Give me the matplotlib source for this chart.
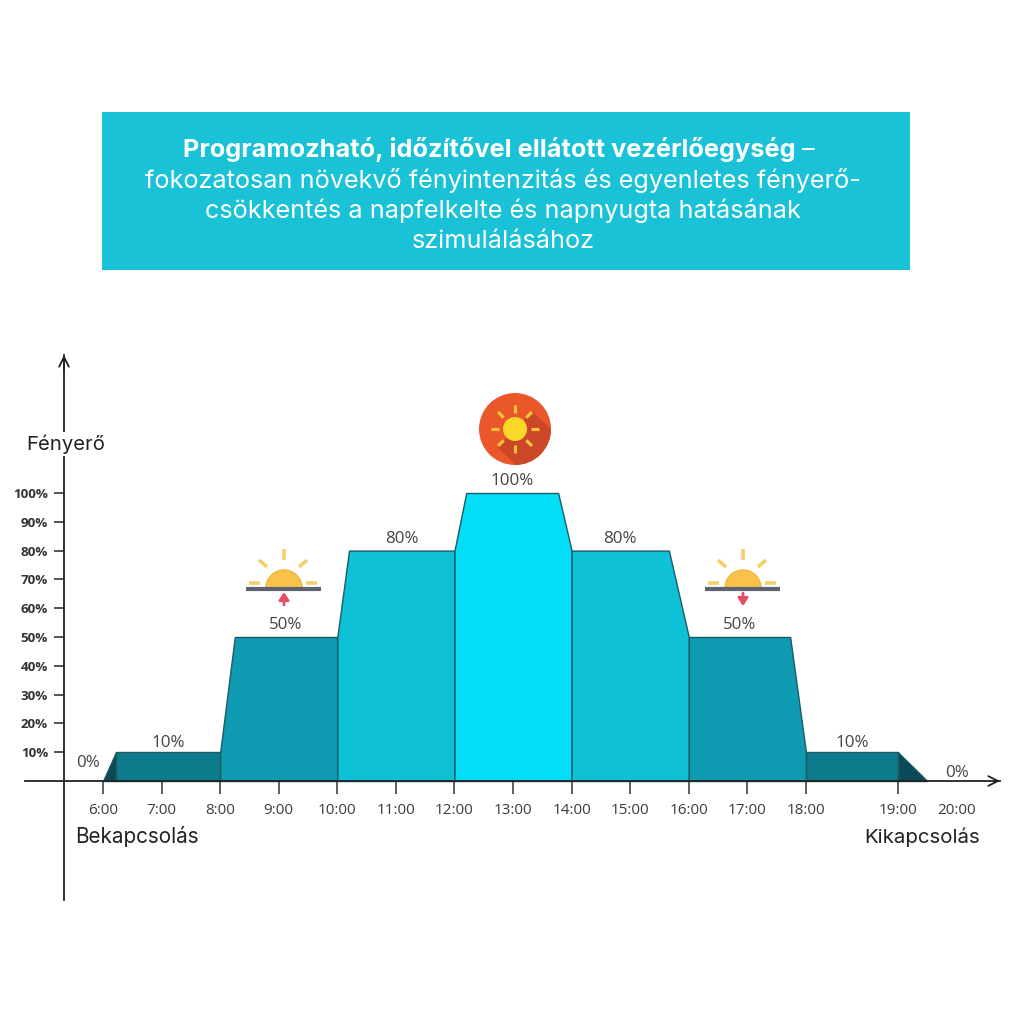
import numpy as np
import matplotlib
matplotlib.use('Agg')
import matplotlib.pyplot as plt
from matplotlib.patches import Rectangle, Circle, Wedge, Polygon
from matplotlib.scale import FuncScale

# ---------------- data ----------------
profile_time = [6.0, 6.22, 8.0, 8.25, 10.0, 10.2, 12.0, 12.2, 13.77, 14.0,
                15.66, 16.0, 17.73, 18.0, 19.0, 19.5]
profile_level = [0, 10, 10, 50, 50, 80, 80, 100, 100, 80, 80, 50, 50, 10, 10, 0]
block_edges = [6.0, 6.22, 8.0, 10.0, 12.0, 14.0, 16.0, 18.0, 19.0, 19.5]
block_levels = [0, 10, 50, 80, 100, 80, 50, 10, 0]
block_colors = ['#0a4a56', '#0d7b8b', '#0e9bb1', '#0fc1d6', '#03def6',
                '#0fc1d6', '#0e9bb1', '#0d7b8b', '#0a4a56']
hour_ticks = list(range(6, 20))
hour_labels = [f'{h}:00' for h in hour_ticks]
last_hour = [20]
last_label = ['20:00']
y_ticks = [10, 20, 30, 40, 50, 60, 70, 80, 90, 100]
y_labels = [f'{v}%' for v in y_ticks]

title_bold = 'Programozható, időzítővel ellátott vezérlőegység'
title_dash = ' –'
title_lines = ['fokozatosan növekvő fényintenzitás és egyenletes fényerő-',
               'csökkentés a napfelkelte és napnyugta hatásának',
               'szimulálásához']
y_title = 'Fényerő'
start_text = 'Bekapcsolás'
end_text = 'Kikapcsolás'

# ---------------- figure ----------------
W = H = 1024
fig = plt.figure(figsize=(W / 100, H / 100), dpi=100)
fig.patch.set_facecolor('white')
renderer = fig.canvas.get_renderer()

TITLE_FONT = ['Inter', 'DejaVu Sans']
NUM_FONT = ['Open Sans', 'DejaVu Sans']

# piecewise scale: the 18:00-19:00 interval is wider in the chart
K = 1.5705
def fwd(x):
    return np.interp(x, [-100, 18, 19, 100], [-100, 18, 18 + K, 100 + K - 1])
def inv(y):
    return np.interp(y, [-100, 18, 18 + K, 100 + K - 1], [-100, 18, 19, 100])

ax = fig.add_axes([0, 0, 1, 1])
ax.set_facecolor('white')
ax.set_xscale(FuncScale(ax.xaxis, (fwd, inv)))
px_per_hour = 58.58
x_left = 6 - 103 / px_per_hour
x_right = float(inv(x_left + W / px_per_hour))
ax.set_xlim(x_left, x_right)
px_per_pct = 2.88
y_bottom = -(H - 781) / px_per_pct
ax.set_ylim(y_bottom, y_bottom + H / px_per_pct)

# blocks
pt = np.array(profile_time)
pl = np.array(profile_level)
for i in range(len(block_edges) - 1):
    lo, hi = block_edges[i], block_edges[i + 1]
    inner = (pt > lo) & (pt < hi)
    xs = np.concatenate([[lo], pt[inner], [hi]])
    ys = np.concatenate([[np.interp(lo, pt, pl)], pl[inner], [np.interp(hi, pt, pl)]])
    if i == 0:
        ys[-1] = 10
    ax.fill_between(xs, ys, 0, facecolor=block_colors[i], edgecolor='#1e5a65',
                    linewidth=1.0, zorder=2)

# value labels
for i in range(len(block_edges) - 1):
    lev = block_levels[i]
    lo, hi = block_edges[i], block_edges[i + 1]
    lab = f'{lev}%'
    kw = dict(textcoords='offset pixels', ha='center', va='baseline',
              fontsize=12.2, color='#444444', family=NUM_FONT, zorder=4)
    if lev == 0 and i == 0:
        ax.annotate(lab, xy=(lo, 0), xytext=(-15, 14), **kw)
    elif lev == 0:
        ax.annotate(lab, xy=(hi, 0), xytext=(30, 4), **kw)
    else:
        sel = (pt >= lo) & (pt <= hi) & (pl == lev)
        mid = float(inv((fwd(pt[sel].min()) + fwd(pt[sel].max())) / 2))
        off = 5 if lev == 10 else 8
        ax.annotate(lab, xy=(mid, lev), xytext=(0, off), **kw)

# axes / spines
for s in ['top', 'right']:
    ax.spines[s].set_visible(False)
y_axis_x = 6 - 39 / px_per_hour
ax.spines['left'].set_position(('data', y_axis_x))
ax.spines['bottom'].set_position(('data', 0))
y_top = (781 - 355) / px_per_pct
ax.spines['left'].set_bounds((781 - 900) / px_per_pct, y_top)
x_end = float(inv(x_left + 1000 / px_per_hour))
ax.spines['bottom'].set_bounds(x_left + 25 / px_per_hour, x_end)
for s in ['left', 'bottom']:
    ax.spines[s].set_color('#222222')
    ax.spines[s].set_linewidth(1.3)
    ax.spines[s].set_zorder(3)

arrow_kw = dict(arrowstyle='->,head_length=0.7,head_width=0.35', lw=1.3,
                color='#222222', shrinkA=0, shrinkB=0)
ax.annotate('', xy=(y_axis_x, y_top), xytext=(y_axis_x, y_top - 5), arrowprops=arrow_kw)
ax.annotate('', xy=(x_end, 0), xytext=(x_end - 0.1, 0), arrowprops=arrow_kw)

ax.set_yticks(y_ticks, y_labels)
ax.tick_params(axis='y', direction='out', length=7.5, width=1.2, color='#333333',
               pad=4, labelsize=9.6, labelcolor='#333333')
for t in ax.get_yticklabels():
    t.set_fontfamily(NUM_FONT)
    t.set_fontweight('bold')
ax.set_xticks(hour_ticks, hour_labels)
ax.set_xticks(last_hour, last_label, minor=True)
ax.tick_params(axis='x', which='major', direction='out', length=9.5, width=1.2,
               color='#444444', pad=6.5, labelsize=11, labelcolor='#3c3c3c')
ax.tick_params(axis='x', which='minor', length=0, pad=16, labelsize=11,
               labelcolor='#3c3c3c')
for t in ax.get_xticklabels() + ax.get_xticklabels(minor=True):
    t.set_fontfamily(NUM_FONT)

# ---------------- overlay in pixel coordinates ----------------
ov = fig.add_axes([0, 0, 1, 1], zorder=5)
ov.set_xlim(0, W)
ov.set_ylim(H, 0)
ov.axis('off')
ov.patch.set_alpha(0)

ov.add_patch(Rectangle((102, 112), 808, 158, facecolor='#19c2d6', edgecolor='none'))


def fit_text(x, y, s, width, ha='center', **kw):
    t = ov.text(x, y, s, ha=ha, va='baseline', fontsize=10, **kw)
    w = t.get_window_extent(renderer).width
    t.set_fontsize(10 * width / w)
    return t

# title lines
reg = fit_text(503, 188, title_lines[0], 719, color='white', family=TITLE_FONT,
               fontweight='normal')
fs = reg.get_fontsize()
for s, yb in zip(title_lines[1:], [218, 248]):
    ov.text(503, yb, s, ha='center', va='baseline', fontsize=fs, color='white',
            family=TITLE_FONT, fontweight='normal')
tb = fit_text(0, 157, title_bold, 612, ha='left', color='white',
              family=TITLE_FONT, fontweight='bold')
td = ov.text(0, 157, title_dash, ha='left', va='baseline', fontsize=fs,
             color='white', family=TITLE_FONT, fontweight='normal')
wb = tb.get_window_extent(renderer).width
wd = td.get_window_extent(renderer).width
left = 499 - (wb + wd) / 2
tb.set_x(left)
td.set_x(left + wb)

t = fit_text(26, 450, y_title, 79, ha='left', color='#222222', family=TITLE_FONT,
             fontweight='normal')
t.set_bbox(dict(facecolor='white', edgecolor='none', pad=1.5))
fit_text(75, 843, start_text, 125, ha='left', color='#222222', family=TITLE_FONT,
         fontweight='normal')
fit_text(980, 843, end_text, 117, ha='right', color='#222222', family=TITLE_FONT,
         fontweight='normal')

# small sunrise / sunset icons
def small_sun(cx, base, up):
    ray = '#f6cf6a'
    ov.add_patch(Wedge((cx, base), 18, 180, 360, facecolor='#f9c24b',
                       edgecolor='#f1b53a', lw=1, zorder=6))
    ov.plot([cx - 38, cx + 37], [base + 1, base + 1], color='#5f6370', lw=3,
            solid_capstyle='butt', zorder=7)
    segs = [((cx, base - 39), (cx, base - 28)),
            ((cx - 25, base - 28), (cx - 17, base - 21)),
            ((cx + 23, base - 28), (cx + 15, base - 21)),
            ((cx - 35, base - 5), (cx - 24, base - 5)),
            ((cx + 22, base - 5), (cx + 33, base - 5))]
    for (x0, y0), (x1, y1) in segs:
        ov.plot([x0, x1], [y0, y1], color=ray, lw=2.6, solid_capstyle='butt', zorder=6)
    if up:
        ov.annotate('', xy=(cx, base + 4), xytext=(cx, base + 17),
                    arrowprops=dict(arrowstyle='-|>,head_length=0.45,head_width=0.3',
                                    color='#e44f66', lw=2, shrinkA=0, shrinkB=0),
                    zorder=7)
    else:
        ov.annotate('', xy=(cx, base + 18), xytext=(cx, base + 5),
                    arrowprops=dict(arrowstyle='-|>,head_length=0.45,head_width=0.3',
                                    color='#e44f66', lw=2, shrinkA=0, shrinkB=0),
                    zorder=7)

small_sun(284, 588, True)
small_sun(743, 588, False)

# big sun icon
cx, cy, r = 515, 429, 36
disc = Circle((cx, cy), r, facecolor='#e9572b', edgecolor='none', zorder=6)
ov.add_patch(disc)
d = np.array([1, 1]) / np.sqrt(2)
p = np.array([1, -1]) / np.sqrt(2)
c = np.array([cx, cy])
shadow = Polygon([c + p * 25, c - p * 25, c - p * 25 + d * 90, c + p * 25 + d * 90],
                 closed=True, facecolor='#cc4727', edgecolor='none', zorder=6.5)
ov.add_patch(shadow)
shadow.set_clip_path(disc)
ov.add_patch(Circle((cx, cy), 12, facecolor='#fbd727', edgecolor='none', zorder=7))
for a in np.arange(0, 360, 45):
    ca, sa = np.cos(np.radians(a)), np.sin(np.radians(a))
    ov.plot([cx + 16 * ca, cx + 24 * ca], [cy + 16 * sa, cy + 24 * sa],
            color='#f8c23a', lw=2.3, solid_capstyle='butt', zorder=7)

fig.savefig('out.png', dpi=100, facecolor='white')
